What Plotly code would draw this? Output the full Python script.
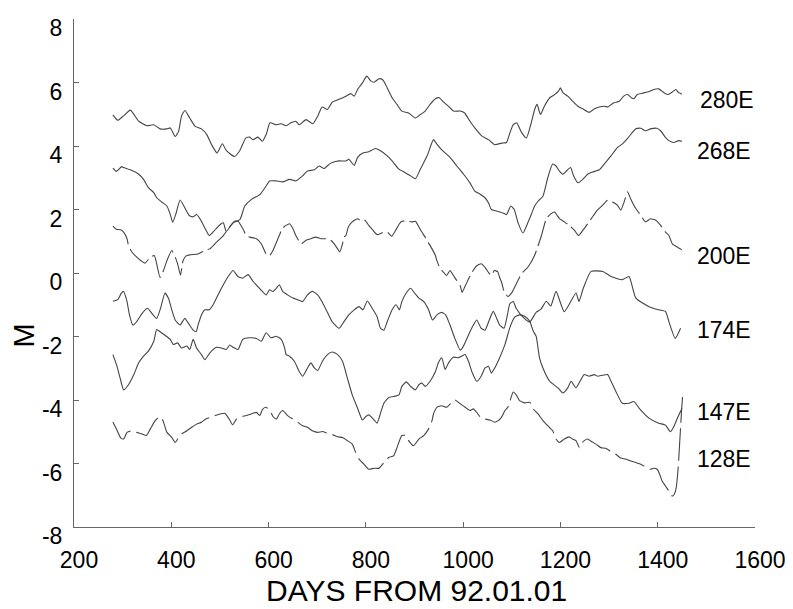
import plotly.graph_objects as go

# ---------------- data (days from 92.01.01, M) ----------------
days_280 = [280, 290, 302, 316, 333, 350, 364, 377, 391, 398, 408, 415, 421, 428, 438, 449, 462, 473, 483, 494,
            505, 513, 530, 541, 553, 561, 568, 578, 587, 595, 603, 616, 626, 636, 646, 656, 663, 677, 691, 701,
            710, 721, 731, 745, 759, 769, 776, 783, 793, 802, 810, 817, 827, 835, 844, 854, 864, 874, 888, 902,
            912, 922, 932, 943, 951, 960, 970, 980, 994, 1003, 1014, 1024, 1038, 1052, 1065, 1079, 1089, 1096, 1103, 1110,
            1120, 1130, 1140, 1147, 1152, 1159, 1167, 1178, 1188, 1196, 1200, 1205, 1215, 1225, 1236, 1246, 1259, 1270, 1280, 1290,
            1298, 1302, 1310, 1321, 1330, 1338, 1346, 1351, 1358, 1368, 1379, 1392, 1402, 1413, 1421, 1430, 1437, 1443, 1450]
m_280 = [4.98, 4.81, 4.95, 5.13, 4.78, 4.64, 4.67, 4.54, 4.54, 4.57, 4.30, 4.46, 4.94, 5.12, 4.88, 4.62, 4.54, 4.36, 4.04, 3.78,
         4.07, 3.86, 3.67, 3.86, 4.25, 4.28, 4.20, 4.28, 4.15, 4.36, 4.73, 4.67, 4.70, 4.64, 4.73, 4.78, 4.67, 4.83, 4.70, 4.94,
         5.23, 5.15, 5.38, 5.47, 5.57, 5.65, 5.57, 5.78, 5.99, 6.20, 6.05, 6.01, 6.12, 6.08, 5.83, 5.52, 5.31, 5.10, 5.04, 4.88,
         4.99, 5.10, 5.31, 5.49, 5.52, 5.38, 5.25, 5.10, 5.10, 5.04, 4.78, 4.57, 4.32, 4.20, 4.04, 4.09, 4.11, 4.41, 4.67, 4.73,
         4.43, 4.25, 4.73, 5.15, 5.31, 4.99, 5.25, 5.52, 5.62, 5.73, 5.83, 5.68, 5.57, 5.41, 5.25, 5.17, 5.06, 5.17, 5.23, 5.25,
         5.23, 5.28, 5.36, 5.41, 5.57, 5.62, 5.52, 5.49, 5.62, 5.66, 5.70, 5.78, 5.80, 5.68, 5.62, 5.70, 5.78, 5.68, 5.63]

days_268 = [280, 287, 298, 302, 316, 333, 343, 353, 364, 370, 381, 391, 398, 403, 410, 418, 428, 437, 445, 452,
            460, 469, 478, 487, 500, 507, 513, 527, 541, 551, 565, 582, 595, 602, 616, 629, 643, 656, 670, 680,
            694, 704, 714, 725, 731, 745, 759, 765, 776, 783, 793, 806, 820, 830, 844, 854, 868, 881, 892, 902,
            912, 926, 939, 946, 956, 973, 987, 1001, 1014, 1024, 1035, 1045, 1052, 1058, 1069, 1082, 1089, 1098, 1105, 1113,
            1123, 1133, 1140, 1147, 1154, 1164, 1174, 1184, 1191, 1198, 1205, 1212, 1221, 1227, 1236, 1246, 1256, 1266, 1280, 1290,
            1304, 1317, 1327, 1338, 1348, 1355, 1365, 1375, 1385, 1398, 1406, 1416, 1423, 1433, 1443, 1450]
m_268 = [3.30, 3.20, 3.35, 3.32, 3.25, 3.11, 2.95, 2.69, 2.53, 2.37, 2.23, 2.11, 1.84, 1.60, 1.89, 2.30, 2.05, 1.81, 1.77, 1.84,
         1.68, 1.42, 1.18, 1.31, 1.52, 1.58, 1.31, 1.58, 1.68, 2.11, 2.32, 2.47, 2.74, 2.90, 2.90, 2.87, 2.95, 2.90, 3.06, 3.21,
         3.25, 3.37, 3.29, 3.43, 3.48, 3.53, 3.53, 3.58, 3.39, 3.64, 3.77, 3.82, 3.92, 3.85, 3.69, 3.53, 3.27, 3.16, 3.06, 2.97,
         3.27, 3.69, 4.20, 4.06, 3.88, 3.64, 3.37, 3.11, 2.84, 2.58, 2.48, 2.37, 2.21, 2.00, 1.95, 1.89, 1.84, 2.11, 2.00, 1.58,
         1.26, 1.58, 1.84, 2.11, 2.26, 2.42, 3.00, 3.43, 3.37, 3.21, 3.11, 3.21, 3.32, 3.06, 2.84, 2.95, 3.11, 3.18, 3.25, 3.43,
         3.69, 3.95, 4.06, 4.24, 4.43, 4.54, 4.56, 4.48, 4.54, 4.56, 4.48, 4.27, 4.17, 4.11, 4.17, 4.15]

days_200 = [280, 287, 296, 302, 309, 312, 319, 329, 340, 346, 357, 365, 370, 377, 384, 391, 401, 408, 413, 419,
            424, 430, 438, 455, 469, 479, 493, 507, 520, 530, 537, 547, 554, 561, 575, 585, 595, 602, 609, 622,
            628, 636, 643, 650, 656, 667, 677, 687, 697, 708, 718, 728, 735, 742, 746, 752, 755, 759, 764, 772,
            783, 791, 798, 806, 815, 823, 834, 844, 853, 861, 869, 874, 885, 895, 902, 909, 915, 922, 928, 936,
            943, 946, 953, 960, 966, 973, 980, 987, 994, 998, 1003, 1011, 1018, 1028, 1037, 1045, 1052, 1058, 1064, 1071,
            1075, 1079, 1084, 1092, 1100, 1110, 1120, 1133, 1147, 1161, 1171, 1181, 1188, 1198, 1208, 1218, 1229, 1237, 1246, 1256,
            1266, 1276, 1287, 1297, 1307, 1317, 1324, 1331, 1338, 1344, 1355, 1365, 1375, 1385, 1396, 1406, 1416, 1423, 1430, 1440,
            1450]
m_200 = [1.48, 1.38, 1.36, 1.29, 1.08, 0.87, 0.66, 0.50, 0.36, 0.31, 0.50, 0.55, 0.29, -0.14, 0.08, 0.39, 0.71, 0.50, 0.29, -0.07,
         0.38, 0.53, 0.57, 0.60, 0.71, 0.76, 0.97, 1.18, 1.45, 1.63, 1.63, 1.40, 1.18, 1.13, 1.08, 0.92, 0.60, 0.55, 0.71, 1.18,
         1.40, 1.50, 1.55, 1.40, 1.18, 0.92, 1.03, 1.08, 1.13, 1.08, 1.08, 1.03, 0.92, 0.76, 0.66, 0.92, 1.13, 1.18, 1.45, 1.61,
         1.71, 1.63, 1.66, 1.50, 1.34, 1.21, 1.27, 1.29, 1.16, 1.34, 1.55, 1.63, 1.63, 1.61, 1.63, 1.45, 1.29, 1.13, 0.97, 0.76,
         0.55, 0.39, 0.13, 0.02, -0.08, 0.08, -0.08, -0.24, -0.40, -0.61, -0.45, -0.19, 0.02, 0.23, 0.29, 0.18, 0.02, -0.08, 0.08, 0.04,
         -0.14, -0.29, -0.57, -0.74, -0.62, -0.32, -0.02, 0.18, 0.56, 1.18, 1.71, 1.87, 1.92, 1.71, 1.61, 1.50, 1.34, 1.18, 1.34, 1.55,
         1.77, 1.98, 2.14, 2.29, 2.24, 2.14, 1.98, 2.24, 2.56, 2.35, 2.03, 1.82, 1.61, 1.71, 1.66, 1.50, 1.29, 1.18, 0.92, 0.82,
         0.73]

days_174 = [280, 290, 297, 302, 309, 314, 321, 329, 340, 351, 360, 370, 378, 387, 394, 401, 408, 418, 425, 428,
            435, 445, 451, 455, 462, 469, 478, 486, 496, 507, 517, 527, 537, 547, 558, 568, 581, 595, 602, 609,
            616, 622, 629, 639, 650, 660, 670, 680, 690, 701, 711, 721, 731, 745, 755, 765, 776, 786, 794, 803,
            813, 823, 830, 837, 844, 854, 862, 869, 874, 883, 892, 900, 909, 919, 929, 937, 946, 956, 964, 973,
            983, 994, 1000, 1011, 1021, 1028, 1037, 1045, 1055, 1062, 1069, 1075, 1084, 1091, 1096, 1103, 1109, 1123, 1137, 1150,
            1160, 1171, 1180, 1191, 1208, 1232, 1238, 1247, 1263, 1287, 1304, 1327, 1341, 1355, 1382, 1402, 1416, 1423, 1436, 1447]
m_174 = [-0.89, -0.84, -0.64, -0.58, -0.90, -1.32, -1.64, -1.53, -1.27, -1.11, -1.27, -1.43, -1.11, -0.63, -0.79, -1.16, -1.48, -1.64, -1.48, -1.43,
         -1.58, -1.80, -1.85, -1.64, -1.32, -1.16, -1.16, -1.00, -0.69, -0.37, -0.11, 0.08, -0.11, -0.16, -0.05, -0.26, -0.48, -0.69, -0.53, -0.58,
         -0.48, -0.37, -0.58, -0.69, -0.79, -0.84, -0.90, -0.69, -0.58, -0.69, -0.94, -1.24, -1.54, -1.74, -1.53, -1.32, -1.16, -1.06, -1.16, -0.88,
         -1.11, -1.37, -1.74, -1.80, -1.53, -1.16, -1.00, -1.16, -0.90, -0.63, -0.48, -0.63, -0.79, -0.90, -1.16, -1.48, -1.32, -1.24, -1.32, -1.64,
         -2.06, -2.43, -2.32, -1.95, -1.64, -1.48, -1.74, -1.80, -1.43, -1.21, -1.43, -1.64, -1.74, -1.32, -0.97, -0.90, -1.11, -1.39, -1.54, -1.24,
         -1.14, -0.89, -1.04, -0.58, -1.22, -0.63, -0.90, -0.48, 0.05, 0.05, -0.11, -0.21, -0.11, -0.79, -1.06, -1.16, -1.21, -1.53, -2.06, -1.74]

days_147 = [280, 288, 295, 302, 312, 323, 333, 343, 353, 364, 370, 377, 387, 398, 404, 413, 421, 432, 438, 445,
            452, 462, 469, 479, 493, 503, 513, 520, 527, 537, 547, 561, 575, 585, 595, 605, 616, 626, 633, 636,
            643, 653, 663, 670, 680, 687, 694, 701, 711, 721, 731, 742, 752, 762, 772, 783, 793, 800, 806, 817,
            823, 830, 837, 847, 857, 868, 874, 883, 892, 902, 909, 915, 922, 932, 943, 949, 956, 963, 970, 980,
            990, 997, 1004, 1011, 1019, 1028, 1037, 1045, 1052, 1058, 1065, 1075, 1086, 1096, 1106, 1116, 1127, 1137, 1144, 1150,
            1157, 1164, 1178, 1195, 1205, 1215, 1222, 1232, 1242, 1249, 1259, 1270, 1276, 1287, 1297, 1304, 1314, 1327, 1341, 1351,
            1362, 1382, 1402, 1416, 1426, 1433, 1442, 1450]
m_147 = [-2.57, -2.92, -3.32, -3.68, -3.52, -3.20, -2.83, -2.62, -2.46, -2.15, -1.78, -1.85, -1.96, -2.09, -2.25, -2.20, -2.36, -2.30, -2.41, -2.09,
         -2.36, -2.57, -2.73, -2.52, -2.34, -2.36, -2.41, -2.27, -2.34, -2.41, -2.09, -2.04, -2.06, -2.15, -1.88, -2.04, -1.99, -2.09, -2.36, -2.57,
         -2.62, -2.78, -3.10, -3.25, -2.99, -2.83, -2.99, -3.07, -2.77, -2.57, -2.49, -2.57, -2.78, -3.31, -3.84, -4.26, -4.63, -4.52, -4.47, -4.63,
         -4.73, -4.42, -4.10, -3.92, -3.89, -3.84, -3.57, -3.43, -3.57, -3.68, -3.52, -3.47, -3.57, -3.41, -3.10, -2.83, -2.67, -3.04, -2.83, -2.65,
         -2.67, -2.62, -2.57, -2.78, -3.15, -3.41, -3.25, -2.99, -2.94, -3.15, -2.99, -2.67, -2.25, -1.72, -1.39, -1.32, -1.37, -1.52, -1.83, -1.99,
         -2.67, -2.99, -3.41, -3.62, -3.78, -3.62, -3.41, -3.62, -3.36, -3.20, -3.25, -3.20, -3.25, -3.22, -3.20, -3.41, -3.73, -4.10, -4.10, -4.05,
         -4.26, -4.57, -4.73, -4.79, -5.00, -4.84, -4.52, -4.26]

days_128 = [280, 288, 296, 302, 309, 319, 329, 340, 349, 357, 367, 376, 383, 391, 401, 408, 415, 421, 432, 442,
            452, 462, 471, 481, 490, 500, 510, 519, 526, 534, 544, 554, 564, 575, 582, 587, 594, 602, 609, 616,
            622, 629, 639, 650, 660, 670, 680, 690, 701, 711, 721, 731, 742, 752, 762, 772, 779, 786, 796, 806,
            817, 827, 837, 847, 857, 864, 874, 883, 888, 898, 909, 919, 929, 936, 939, 946, 956, 966, 977, 983,
            994, 1004, 1014, 1021, 1028, 1037, 1045, 1055, 1065, 1072, 1079, 1086, 1092, 1103, 1110, 1116, 1127, 1137, 1144, 1154,
            1164, 1174, 1184, 1191, 1198, 1208, 1218, 1225, 1232, 1239, 1242, 1249, 1256, 1263, 1273, 1283, 1293, 1304, 1314, 1324,
            1334, 1345, 1355, 1365, 1375, 1385, 1392, 1399, 1404, 1409, 1416, 1423, 1430, 1434, 1438, 1441, 1443, 1445, 1447, 1449,
            1451]
m_128 = [-4.69, -4.94, -5.19, -5.23, -5.02, -4.97, -5.02, -5.07, -5.12, -4.91, -4.65, -4.52, -4.65, -5.02, -5.18, -5.34, -5.18, -5.07, -4.97, -4.86,
         -4.76, -4.70, -4.60, -4.54, -4.49, -4.44, -4.42, -4.60, -4.78, -4.60, -4.52, -4.49, -4.44, -4.39, -4.49, -4.31, -4.23, -4.31, -4.52, -4.60,
         -4.44, -4.33, -4.49, -4.60, -4.70, -4.81, -4.86, -4.97, -5.02, -4.99, -5.05, -5.09, -5.16, -5.18, -5.28, -5.39, -5.65, -5.86, -6.02, -6.18,
         -6.15, -6.15, -5.97, -5.81, -5.76, -5.50, -5.12, -5.12, -5.28, -5.44, -5.23, -5.12, -4.91, -4.65, -4.44, -4.23, -4.18, -4.23, -4.07, -4.00,
         -4.12, -4.23, -4.33, -4.28, -4.39, -4.57, -4.60, -4.63, -4.70, -4.65, -4.54, -4.33, -4.23, -3.75, -3.86, -4.02, -4.09, -4.07, -4.28, -4.44,
         -4.65, -4.81, -4.97, -5.23, -5.34, -5.23, -5.16, -5.23, -5.28, -5.50, -5.39, -5.28, -5.23, -5.30, -5.39, -5.50, -5.52, -5.62, -5.71, -5.83,
         -5.86, -5.92, -5.97, -6.02, -6.11, -6.18, -6.15, -6.18, -6.34, -6.55, -6.71, -6.87, -7.03, -6.97, -6.76, -6.34, -5.92, -5.39, -4.86, -4.33,
         -3.91]

series_names = ["280E", "268E", "200E", "174E", "147E", "128E"]
x_ticks = [200, 400, 600, 800, 1000, 1200, 1400, 1600]
y_ticks = [-8, -6, -4, -2, 0, 2, 4, 6, 8]

# ---------------- figure ----------------
LINE = "#444444"
FONT = "Liberation Sans, Arial, sans-serif"

series = [
    (days_280, m_280, "solid"),
    (days_268, m_268, "solid"),
    (days_200, m_200, "26px,5px"),
    (days_174, m_174, "solid"),
    (days_147, m_147, "solid"),
    (days_128, m_128, "32px,6px"),
]

fig = go.Figure()
for (dx, my, dash), name in zip(series, series_names):
    assert len(dx) == len(my), name
    fig.add_trace(go.Scatter(
        x=dx, y=my, mode="lines", name=name,
        line=dict(color=LINE, width=1.1, dash=dash, shape="spline", smoothing=0.5),
        showlegend=False, hoverinfo="skip"))

# series labels at right end
label_pos = {"280E": (1482, 5.44), "268E": (1476, 3.85), "200E": (1476, 0.53),
             "174E": (1476, -1.80), "147E": (1476, -4.37), "128E": (1476, -5.86)}
for name in series_names:
    lx, ly = label_pos[name]
    fig.add_annotation(x=lx, y=ly, xref="x", yref="y", text=name, showarrow=False,
                       xanchor="left", yanchor="middle",
                       font=dict(family=FONT, size=23, color="#000"))

axis_common = dict(showgrid=False, zeroline=False, showline=True, linecolor="#666",
                   linewidth=1, ticks="inside", ticklen=5, tickcolor="#666",
                   tickfont=dict(family=FONT, size=23, color="#000"), mirror=False,
                   ticklabeloverflow="allow")

fig.update_xaxes(range=[200, 1600], tickvals=x_ticks, ticktext=[str(v) for v in x_ticks],
                 ticklabelstandoff=12, ticklabelshift=5, **axis_common)
fig.update_yaxes(range=[-8, 8], tickvals=y_ticks, ticktext=[str(v) for v in y_ticks],
                 ticklabelstandoff=6, ticklabelshift=9, **axis_common)

# axis titles
fig.add_annotation(x=0.503, y=-0.1256, xref="paper", yref="paper", text="DAYS FROM 92.01.01",
                   showarrow=False, xanchor="center", yanchor="middle",
                   font=dict(family=FONT, size=30, color="#000"))
fig.add_annotation(x=-0.0728, y=0.378, xref="paper", yref="paper", text="M", textangle=-90,
                   showarrow=False, xanchor="center", yanchor="middle",
                   font=dict(family=FONT, size=29, color="#000"))

fig.update_layout(width=785, height=601, margin=dict(l=66, r=32, t=7, b=82),
                  plot_bgcolor="white", paper_bgcolor="white")

fig.write_html("out.html")
